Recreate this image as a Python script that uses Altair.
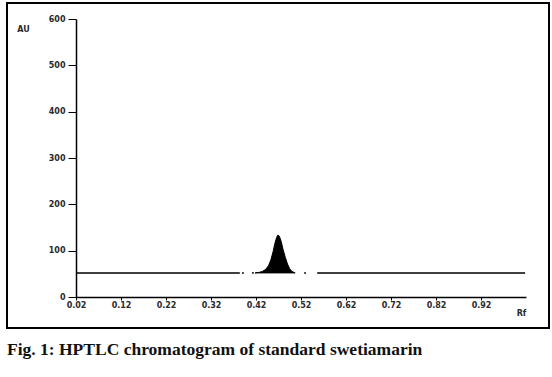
import altair as alt
import pandas as pd

# Baseline pieces (segment id, Rf, AU)
base_seg = ["a", "a", "b", "b", "c", "c", "d", "d", "e", "e"]
base_rf = [0.02, 0.384, 0.389, 0.393, 0.411, 0.415, 0.527, 0.531, 0.556, 1.018]
base_au = [52, 52, 52, 52, 52, 52, 52, 52, 52, 52]

# Peak (swetiamarin)
peak_rf = [0.418, 0.426, 0.434, 0.442, 0.448, 0.453, 0.458, 0.462, 0.466, 0.469,
           0.472, 0.476, 0.480, 0.485, 0.490, 0.495, 0.500, 0.507]
peak_au = [52, 53, 55, 60, 68, 80, 98, 116, 129, 134,
           131, 120, 103, 86, 71, 61, 55, 52]
peak_base = 52

x_ticks = [0.02, 0.12, 0.22, 0.32, 0.42, 0.52, 0.62, 0.72, 0.82, 0.92]
y_ticks = [0, 100, 200, 300, 400, 500, 600]

base_df = pd.DataFrame({"seg": base_seg, "rf": base_rf, "au": base_au})
peak_df = pd.DataFrame({"rf": peak_rf, "au": peak_au, "base": [peak_base] * len(peak_rf)})

xs = alt.Scale(domain=[0.02, 1.02], range=[69, 519], nice=False, zero=False)
ys = alt.Scale(domain=[0, 600], range=[294, 16], nice=False, zero=False)

lab_font = "DejaVu Sans"
lab_size = 8
lab_color = "#2a2a2a"

x_axis = alt.Axis(values=x_ticks, format=".2f", offset=-31, tickSize=3, labelPadding=1,
                  labelFlush=False, grid=False, domainColor="black", tickColor="black",
                  domainWidth=1.5, labelFont=lab_font, labelFontSize=lab_size,
                  labelFontWeight="bold", labelColor=lab_color,
                  title="Rf", titleAngle=0, titleX=514, titleY=16, titleAlign="center",
                  titleBaseline="middle", titleFont=lab_font, titleFontSize=lab_size,
                  titleFontWeight="bold", titleColor=lab_color)
y_axis = alt.Axis(values=y_ticks, offset=-69, tickSize=8, labelPadding=3,
                  grid=False, domainColor="black", tickColor="black", domainWidth=1.5,
                  labelFont=lab_font, labelFontSize=lab_size, labelFontWeight="bold",
                  labelColor=lab_color,
                  title="AU", titleAngle=0, titleX=-53, titleY=26, titleAlign="center",
                  titleBaseline="middle", titleFont=lab_font, titleFontSize=lab_size,
                  titleFontWeight="bold", titleColor=lab_color)

base_line = alt.Chart(base_df).mark_line(color="black", strokeWidth=1.5).encode(
    x=alt.X("rf:Q", scale=xs, axis=x_axis),
    y=alt.Y("au:Q", scale=ys, axis=y_axis),
    detail="seg:N",
)

peak = alt.Chart(peak_df).mark_area(color="black", stroke="black", strokeWidth=1).encode(
    x=alt.X("rf:Q", scale=xs),
    y=alt.Y("au:Q", scale=ys),
    y2="base:Q",
)

chart = alt.layer(base_line, peak).properties(
    width=542,
    height=325,
    background="white",
    autosize=alt.AutoSizeParams(type="none"),
    padding={"left": 7, "top": 3, "right": 3, "bottom": 49},
    title=alt.TitleParams(
        "Fig. 1: HPTLC chromatogram of standard swetiamarin",
        orient="bottom", anchor="start", font="Liberation Serif", fontSize=17.5,
        fontWeight="bold", color="#111", offset=13,
    ),
).configure_view(stroke="black", strokeWidth=2, strokeOpacity=1)

chart.save("out.html", embed_options={"renderer": "svg", "actions": False})
